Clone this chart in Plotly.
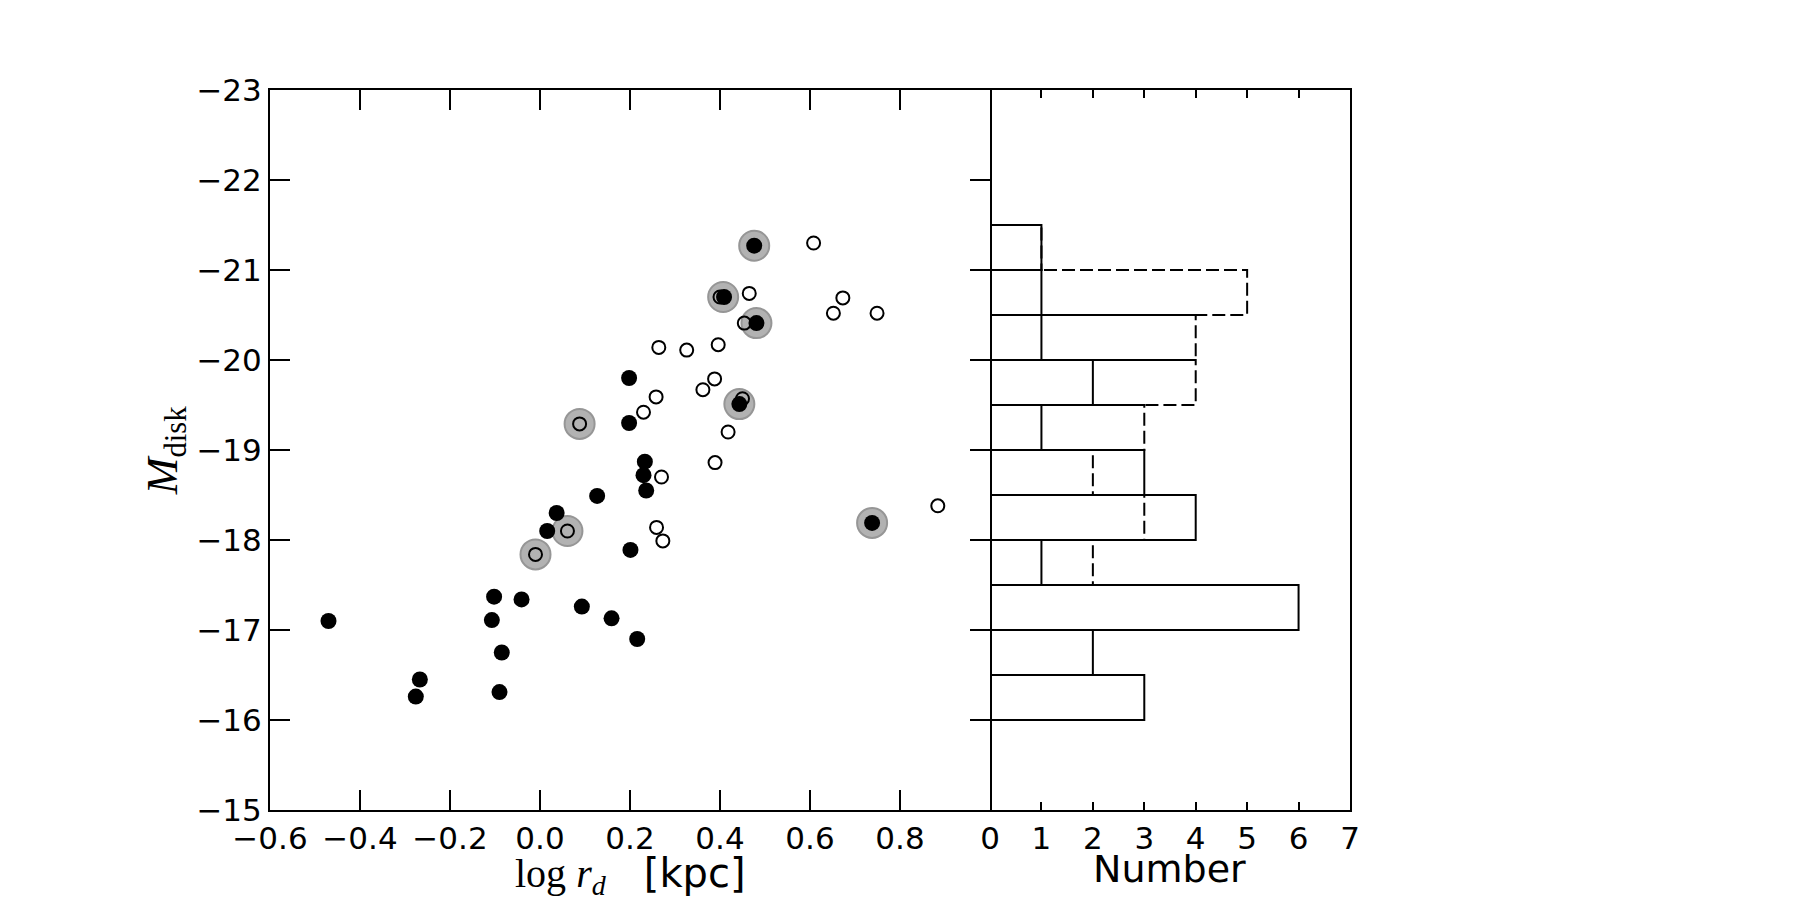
import numpy as np
import plotly.graph_objects as go

# Filled circles (solid histogram)
filled_x = [0.476, 0.409, 0.481, 0.198, 0.443, 0.198, 0.233, 0.230, 0.236, 0.127,
            0.037, 0.016, 0.738, 0.201, -0.102, -0.041, 0.093, -0.107, 0.159, -0.470,
            0.216, -0.085, -0.267, -0.276, -0.090]
filled_y = [-21.27, -20.70, -20.41, -19.80, -19.51, -19.30, -18.87, -18.72, -18.55, -18.49,
            -18.30, -18.10, -18.19, -17.89, -17.37, -17.34, -17.26, -17.11, -17.13, -17.10,
            -16.90, -16.75, -16.45, -16.26, -16.31]

# Open circles (dashed histogram)
open_x = [0.608, 0.400, 0.465, 0.673, 0.652, 0.749, 0.454, 0.264, 0.326, 0.396,
          0.388, 0.362, 0.258, 0.450, 0.230, 0.088, 0.418, 0.389, 0.270, 0.061,
          -0.010, 0.259, 0.273, 0.884]
open_y = [-21.30, -20.70, -20.74, -20.69, -20.52, -20.52, -20.41, -20.14, -20.11, -20.17,
          -19.79, -19.67, -19.59, -19.57, -19.42, -19.29, -19.20, -18.86, -18.70, -18.10,
          -17.84, -18.14, -17.99, -18.38]

# Highlighted objects (gray halos)
halo_x = [0.476, 0.407, 0.481, 0.443, 0.738, 0.088, 0.061, -0.010]
halo_y = [-21.27, -20.70, -20.41, -19.51, -18.19, -19.29, -18.10, -17.84]

x_ticks = [-0.6, -0.4, -0.2, 0.0, 0.2, 0.4, 0.6, 0.8]
x_tick_text = ["\u22120.6", "\u22120.4", "\u22120.2", "0.0", "0.2", "0.4", "0.6", "0.8"]
y_ticks = [-23, -22, -21, -20, -19, -18, -17, -16, -15]
y_tick_text = ["\u2212" + str(abs(v)) for v in y_ticks]
hist_ticks = [0, 1, 2, 3, 4, 5, 6, 7]

x_label = '<span style="font-family:Liberation Serif">log <i>r<sub>d</sub></i></span>&nbsp;&nbsp;&nbsp;[kpc]'
y_label = "<i>M</i><sub>disk</sub>"
hist_label = "Number"

bin_edges = np.arange(-23.0, -14.99, 0.5)


def rect_path(values):
    counts, edges = np.histogram(values, bins=bin_edges)
    xs, ys = [], []
    for c, lo, hi in zip(counts, edges[:-1], edges[1:]):
        if c > 0:
            xs += [0, c, c, 0, 0, None]
            ys += [lo, lo, hi, hi, lo, None]
    return xs, ys


fig = go.Figure()

fig.add_trace(go.Scatter(
    x=halo_x, y=halo_y, mode="markers", xaxis="x", yaxis="y",
    marker=dict(size=30, color="rgb(178,178,178)",
                line=dict(color="rgb(150,150,150)", width=2)),
    hoverinfo="skip", showlegend=False))

fig.add_trace(go.Scatter(
    x=open_x, y=open_y, mode="markers", xaxis="x", yaxis="y",
    marker=dict(size=13, color="rgba(0,0,0,0)", line=dict(color="black", width=2)),
    showlegend=False))

fig.add_trace(go.Scatter(
    x=filled_x, y=filled_y, mode="markers", xaxis="x", yaxis="y",
    marker=dict(size=16, color="black", line=dict(width=0)),
    showlegend=False))

sx, sy = rect_path(filled_y)
fig.add_trace(go.Scatter(
    x=sx, y=sy, mode="lines", xaxis="x2", yaxis="y2",
    line=dict(color="black", width=2), hoverinfo="skip", showlegend=False))

dx, dy = rect_path(open_y)
fig.add_trace(go.Scatter(
    x=dx, y=dy, mode="lines", xaxis="x2", yaxis="y2",
    line=dict(color="black", width=2, dash="13px,5px"), hoverinfo="skip", showlegend=False))

tick_font = dict(family="DejaVu Sans", size=31, color="black")

fig.update_layout(
    width=1800, height=900,
    paper_bgcolor="white", plot_bgcolor="white",
    margin=dict(l=270, r=450, t=90, b=90),
    showlegend=False,
    xaxis=dict(
        domain=[0, 2 / 3], range=[-0.6, 1.0], automargin=False,
        tickvals=x_ticks, ticktext=x_tick_text, tickfont=tick_font,
        ticks="inside", ticklen=20, tickwidth=2, tickcolor="black",
        showline=True, linecolor="black", linewidth=2, mirror="ticks",
        showgrid=False, zeroline=False,
    ),
    yaxis=dict(
        domain=[0, 1], range=[-15, -23], automargin=False,
        tickvals=y_ticks, ticktext=y_tick_text, tickfont=tick_font,
        ticks="inside", ticklen=20, tickwidth=2, tickcolor="black",
        showline=True, linecolor="black", linewidth=2, mirror="ticks",
        showgrid=False, zeroline=False,
    ),
    xaxis2=dict(
        domain=[2 / 3, 1], range=[0, 7], anchor="y2", automargin=False,
        tickvals=hist_ticks, ticktext=[str(v) for v in hist_ticks], tickfont=tick_font,
        ticks="inside", ticklen=8, tickwidth=1.5, tickcolor="black",
        showline=True, linecolor="black", linewidth=2, mirror="ticks",
        showgrid=False, zeroline=False,
    ),
    yaxis2=dict(
        domain=[0, 1], range=[-15, -23], anchor="x2", matches="y", side="right",
        showticklabels=False, ticks="", automargin=False,
        showline=True, linecolor="black", linewidth=2, mirror=False,
        showgrid=False, zeroline=False,
    ),
    annotations=[
        dict(text=x_label, xref="paper", yref="paper", x=1 / 3, y=-0.091,
             xanchor="center", yanchor="middle", showarrow=False,
             font=dict(family="DejaVu Sans", size=40, color="black")),
        dict(text=hist_label, xref="paper", yref="paper", x=0.833, y=-0.082,
             xanchor="center", yanchor="middle", showarrow=False,
             font=dict(family="DejaVu Sans", size=38, color="black")),
        dict(text=y_label, xref="paper", yref="paper", x=-0.097, y=0.5,
             xanchor="center", yanchor="middle", showarrow=False, textangle=-90,
             font=dict(family="Liberation Serif", size=44, color="black")),
    ],
)

fig.write_html(
    "out.html",
    config={"displayModeBar": False},
    post_script="document.body.style.margin='0';document.body.style.overflow='hidden';",
)
